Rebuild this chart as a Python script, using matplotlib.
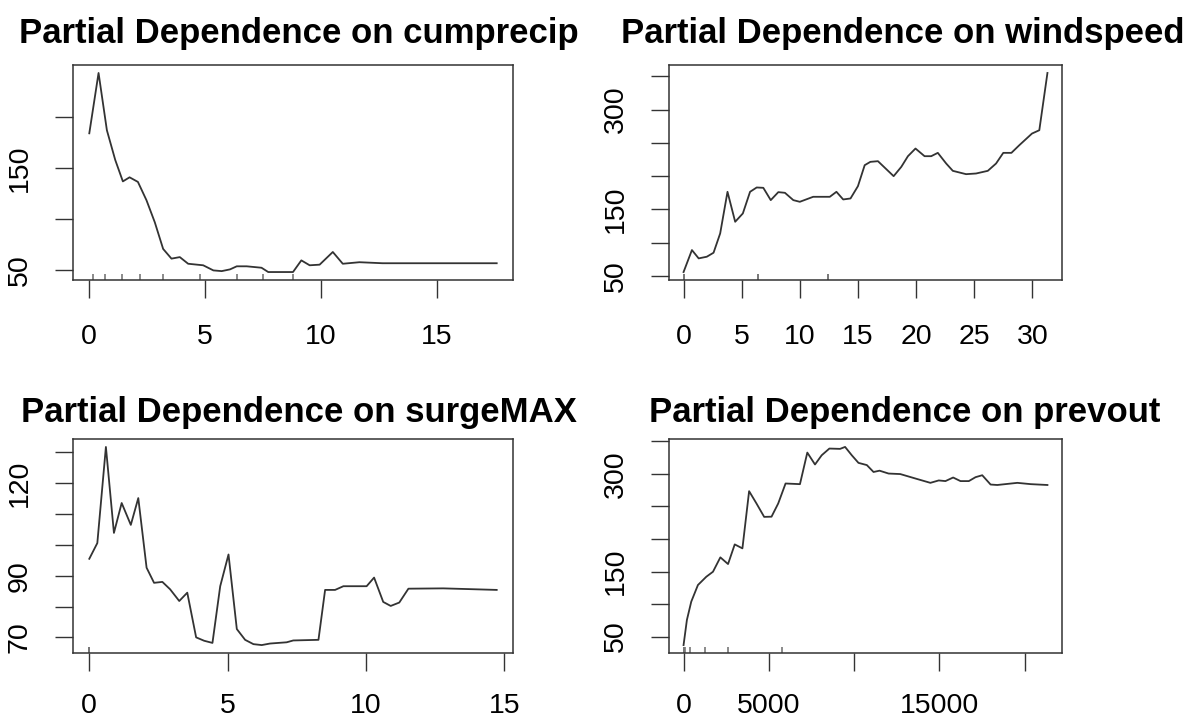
import matplotlib
matplotlib.use("Agg")
import matplotlib.pyplot as plt

plt.rcParams['font.family'] = ['Liberation Sans', 'DejaVu Sans']

# -----------------------------
# partial dependence curves
# -----------------------------
cumprecip_x = [0, 0.4, 0.76, 1.12, 1.45, 1.74, 2.1, 2.47, 2.83, 3.19, 3.55, 3.91,
               4.27, 4.92, 5.36, 5.72, 6.08, 6.37, 6.8, 7.44, 7.73, 8.8, 9.16,
               9.52, 9.95, 10.52, 10.95, 11.67, 12.67, 17.6]
cumprecip_y = [184, 243, 187, 158, 137, 141, 136.5, 118.6, 97, 71, 61.5, 63,
               56.5, 55, 50, 49.3, 51, 54, 54, 52.6, 48.4, 48.4, 59.8,
               55, 55.6, 68, 56.5, 58, 57, 57]
cumprecip_rug = [0.16, 0.69, 1.41, 2.17, 3.2, 4.78, 6.37, 7.51, 8.8]

windspeed_x = [0, 0.72, 1.3, 2.0, 2.58, 3.15, 3.78, 4.44, 5.1, 5.72, 6.29, 6.86,
               7.5, 8.15, 8.72, 9.44, 10.0, 11.15, 12.58, 13.15, 13.73, 14.36,
               15.0, 15.58, 16.07, 16.72, 18.07, 18.73, 19.3, 19.95, 20.73, 21.3,
               21.87, 22.59, 23.16, 24.3, 25.16, 26.17, 26.88, 27.5, 28.2, 28.88,
               29.97, 30.6, 31.3]
windspeed_y = [56, 89, 76.5, 79, 85, 114, 176.5, 131.5, 144, 176.5, 183, 182.5,
               164, 176, 175, 164, 161.5, 169, 169, 176.5, 165, 166.5,
               185, 216.5, 221.5, 222.5, 200, 214, 230, 241.5, 230, 230,
               235, 219, 208, 203, 204, 208, 219, 235, 235, 246.5,
               264, 269, 355]
windspeed_rug = [0, 0, 0, 0, 0, 6.4, 6.4, 12.4, 12.4]

surge_x = [0, 0.29, 0.6, 0.89, 1.17, 1.5, 1.77, 2.07, 2.34, 2.64, 2.92, 3.25,
           3.54, 3.86, 4.15, 4.45, 4.73, 5.03, 5.33, 5.63, 5.93, 6.23, 6.53,
           7.13, 7.37, 8.28, 8.52, 8.88, 9.18, 10.02, 10.29, 10.62, 10.89,
           11.2, 11.53, 12.79, 14.72]
surge_y = [95.5, 100.6, 131.8, 103.9, 113.6, 106.5, 115.2, 92.6, 87.7, 88, 85.6, 81.8,
           84.5, 70, 68.9, 68.2, 86.6, 96.9, 72.7, 69.2, 67.8, 67.5, 68,
           68.4, 69, 69.2, 85.4, 85.4, 86.6, 86.6, 89.4, 81.5, 80.2,
           81.3, 85.8, 85.9, 85.4]
surge_rug = [0, 0, 0, 0, 0, 0, 0, 0, 0]

prevout_x = [0, 196, 451, 843, 1333, 1725, 2157, 2608, 3000, 3451, 3843, 4275,
             4726, 5157, 5549, 5980, 6824, 7255, 7706, 8098, 8549, 9176, 9470,
             9862, 10254, 10745, 11137, 11490, 12019, 12705, 13588, 14470,
             14960, 15353, 15804, 16235, 16725, 17117, 17510, 18000, 18392,
             19568, 20353, 21333]
prevout_y = [37, 75.6, 103.7, 129.3, 142, 149.7, 171.8, 161.5, 191.7, 185.6, 273.5, 254.6,
             234, 234.3, 254.6, 285.3, 284.3, 332.8, 314.5, 328.7, 339, 338.5, 341.5,
             328.7, 317, 313.6, 303, 305, 300.6, 299.8, 293, 286.3,
             290, 289, 294.5, 289, 289, 295, 298, 283.7, 283,
             286.3, 284.3, 283]
prevout_rug = [0, 0, 0, 0, 59, 353, 1235, 2607, 5745]

# ticks and labels (R drops labels that would overlap)
cumprecip_xt = [0, 5, 10, 15]
cumprecip_yt = [50, 100, 150, 200]
cumprecip_yl = ["50", "", "150", ""]
windspeed_xt = [0, 5, 10, 15, 20, 25, 30]
windspeed_yt = [50, 100, 150, 200, 250, 300, 350]
windspeed_yl = ["50", "", "150", "", "", "300", ""]
surge_xt = [0, 5, 10, 15]
surge_yt = [70, 80, 90, 100, 110, 120, 130]
surge_yl = ["70", "", "90", "", "", "120", ""]
prevout_xt = [0, 5000, 10000, 15000, 20000]
prevout_xl = ["0", "5000", "", "15000", ""]
prevout_yt = [50, 100, 150, 200, 250, 300, 350]
prevout_yl = ["50", "", "150", "", "", "300", ""]


def pd_panel(ax, x, y, rug, name, xt, yt, yl, xl=None, tx=0.5, tpad=12, xpad=18.5):
    ax.plot(x, y, color="#333333", lw=1.3)
    ax.margins(x=0.04, y=0.04)
    # rug of deciles along the bottom
    ax.vlines(rug, 0, 0.03, transform=ax.get_xaxis_transform(),
              color="#777777", lw=1.2)
    ax.set_xticks(xt, xl if xl is not None else [str(v) for v in xt])
    ax.set_yticks(yt, yl, rotation=90, va="center")
    ax.tick_params(length=13, width=1, labelsize=20.5, color="#333333")
    ax.tick_params(axis="x", pad=xpad)
    ax.tick_params(axis="y", pad=16)
    for s in ax.spines.values():
        s.set_linewidth(1.1)
        s.set_color("#333333")
    ax.set_title("Partial Dependence on " + name, fontsize=25,
                 fontweight="bold", pad=tpad, x=tx)


fig = plt.figure(figsize=(11.96, 7.2), dpi=100)
W, H = 1196.0, 720.0


def box(l, r, t, b):
    return [l / W, 1 - b / H, (r - l) / W, (b - t) / H]


ax1 = fig.add_axes(box(73, 513, 65, 280))
ax2 = fig.add_axes(box(669, 1062, 65, 280))
ax3 = fig.add_axes(box(73, 513, 439, 653))
ax4 = fig.add_axes(box(669, 1062, 439, 653))

pd_panel(ax1, cumprecip_x, cumprecip_y, cumprecip_rug, "cumprecip",
         cumprecip_xt, cumprecip_yt, cumprecip_yl, tx=0.514, tpad=15.5)
pd_panel(ax2, windspeed_x, windspeed_y, windspeed_rug, "windspeed",
         windspeed_xt, windspeed_yt, windspeed_yl, tx=0.595, tpad=15.5)
pd_panel(ax3, surge_x, surge_y, surge_rug, "surgeMAX",
         surge_xt, surge_yt, surge_yl, tx=0.514, tpad=12.5, xpad=16)
pd_panel(ax4, prevout_x, prevout_y, prevout_rug, "prevout",
         prevout_xt, prevout_yt, prevout_yl, prevout_xl, tx=0.6, tpad=12.5,
         xpad=16)

fig.savefig("out.png", dpi=100)
